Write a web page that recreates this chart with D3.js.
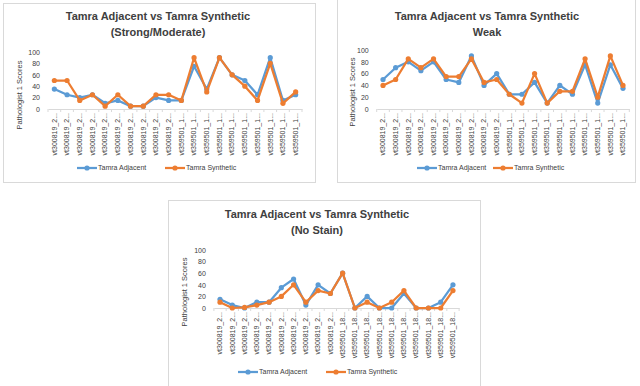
<!DOCTYPE html>
<html>
<head>
<meta charset="utf-8">
<script src="https://cdnjs.cloudflare.com/ajax/libs/d3/7.8.5/d3.min.js"></script>
<style>
  body { margin: 0; background: #fff; }
  svg { display: block; font-family: "Liberation Sans", Arial, sans-serif; }
  .title { font-size: 11px; font-weight: bold; fill: #404040; }
  .tick text { font-size: 7px; fill: #404040; }
  .ylab { font-size: 7.5px; fill: #404040; }
  .leg { font-size: 7px; fill: #404040; }
</style>
</head>
<body>
<div id="chart-area"></div>
<script>
// categories
var catsA = ["vt300819_2...", "vt300819_2...", "vt300819_2...", "vt300819_2...", "vt300819_2...",
             "vt300819_2...", "vt300819_2...", "vt300819_2...", "vt300819_2...", "vt300819_2...",
             "vt359501_1...", "vt359501_1...", "vt359501_1...", "vt359501_1...", "vt359501_1...",
             "vt359501_1...", "vt359501_1...", "vt359501_1...", "vt359501_1...", "vt359501_1..."];
var catsC = ["vt300819_2...", "vt300819_2...", "vt300819_2...", "vt300819_2...", "vt300819_2...",
             "vt300819_2...", "vt300819_2...", "vt300819_2...", "vt300819_2...", "vt300819_2...",
             "vt359501_18...", "vt359501_18...", "vt359501_18...", "vt359501_18...", "vt359501_18...",
             "vt359501_18...", "vt359501_18...", "vt359501_18...", "vt359501_18...", "vt359501_18..."];

// Strong/Moderate
var strongAdj = [35, 25, 20, 25, 10, 15, 5, 5, 20, 15, 15, 75, 35, 90, 60, 50, 25, 90, 15, 25];
var strongSyn = [50, 50, 15, 25, 5, 25, 5, 5, 25, 25, 15, 90, 30, 90, 60, 40, 15, 80, 10, 30];
// Weak
var weakAdj = [50, 70, 80, 65, 80, 50, 45, 90, 40, 60, 25, 25, 45, 10, 40, 25, 75, 10, 75, 35];
var weakSyn = [40, 50, 85, 70, 85, 55, 55, 85, 45, 50, 25, 10, 60, 10, 30, 30, 85, 20, 90, 40];
// No stain
var noneAdj = [15, 5, 0, 10, 10, 35, 50, 5, 40, 25, 60, 0, 20, 0, 0, 25, 0, 0, 10, 40];
var noneSyn = [10, 0, 1, 5, 10, 20, 40, 10, 30, 25, 60, 0, 10, 0, 10, 30, 0, 0, 0, 30];

var yTicks = [0, 20, 40, 60, 80, 100];
var seriesNames = ["Tamra Adjacent", "Tamra Synthetic"];
var colors = ["#5b9bd5", "#ed7d31"];

var svg = d3.select("#chart-area").append("svg")
    .attr("width", 640)
    .attr("height", 386);

function drawChart(c) {
  var g = svg.append("g");

  // frame
  g.append("rect")
      .attr("x", c.box[0] + 0.5).attr("y", c.box[1] + 0.5)
      .attr("width", c.box[2]).attr("height", c.box[3])
      .attr("fill", "#fff").attr("stroke", "#d9d9d9");

  // title
  c.title.forEach(function(t, i) {
    g.append("text").attr("class", "title")
        .attr("x", c.titleX).attr("y", c.titleY + i * 16)
        .attr("text-anchor", "middle")
        .text(t);
  });

  var x = d3.scaleBand().domain(d3.range(c.cats.length)).range(c.xr);
  var y = d3.scaleLinear().domain([0, 100]).range(c.yr);
  var cx = function(i) { return x(i) + x.bandwidth() / 2; };

  // y axis (labels only)
  var yAxis = g.append("g")
      .attr("transform", "translate(" + c.xr[0] + ",0)")
      .call(d3.axisLeft(y).tickValues(yTicks).tickSize(0).tickPadding(8));
  yAxis.select(".domain").remove();

  // x axis
  var xAxis = g.append("g")
      .attr("transform", "translate(0," + c.yr[0] + ")")
      .call(d3.axisBottom(x).tickSize(0).tickFormat(function(i) { return c.cats[i]; }));
  xAxis.select(".domain").attr("stroke", "#d9d9d9");
  xAxis.selectAll(".tick text")
      .attr("transform", "rotate(-90)")
      .attr("x", -4).attr("y", 0).attr("dy", "0.32em")
      .style("text-anchor", "end");
  // tick marks between categories
  g.selectAll(".xt").data(d3.range(c.cats.length + 1)).enter().append("line")
      .attr("x1", function(i) { return c.xr[0] + i * x.bandwidth(); })
      .attr("x2", function(i) { return c.xr[0] + i * x.bandwidth(); })
      .attr("y1", c.yr[0]).attr("y2", c.yr[0] + 3)
      .attr("stroke", "#d9d9d9");

  // y label
  g.append("text").attr("class", "ylab")
      .attr("transform", "translate(" + c.ylabX + "," + c.ylabY + ") rotate(-90)")
      .attr("text-anchor", "middle")
      .text("Pathologist 1 Scores");

  var line = d3.line()
      .x(function(d, i) { return cx(i); })
      .y(function(d) { return y(d); });

  c.series.forEach(function(s, k) {
    g.append("path")
        .attr("d", line(s))
        .attr("fill", "none")
        .attr("stroke", colors[k])
        .attr("stroke-width", 2.25)
        .attr("stroke-linejoin", "round");
    g.selectAll(".pt" + k).data(s).enter().append("circle")
        .attr("cx", function(d, i) { return cx(i); })
        .attr("cy", function(d) { return y(d); })
        .attr("r", 2.6)
        .attr("fill", colors[k]);
  });

  // legend
  seriesNames.forEach(function(n, k) {
    var lx = c.legX[k];
    g.append("line")
        .attr("x1", lx).attr("x2", lx + 20)
        .attr("y1", c.legY).attr("y2", c.legY)
        .attr("stroke", colors[k]).attr("stroke-width", 2.25);
    g.append("circle").attr("cx", lx + 10).attr("cy", c.legY).attr("r", 2.6).attr("fill", colors[k]);
    g.append("text").attr("class", "leg")
        .attr("x", lx + 21).attr("y", c.legY).attr("dy", "0.35em")
        .text(n);
  });
}

drawChart({
  box: [3, 3, 312, 179],
  title: ["Tamra Adjacent vs Tamra Synthetic", "(Strong/Moderate)"],
  titleX: 158, titleY: 20,
  cats: catsA, series: [strongAdj, strongSyn],
  xr: [48, 302], yr: [109, 52],
  ylabX: 22, ylabY: 95,
  legX: [77, 165], legY: 168
});

drawChart({
  box: [337, -1, 298, 183],
  title: ["Tamra Adjacent vs Tamra Synthetic", "Weak"],
  titleX: 487, titleY: 20,
  cats: catsA, series: [weakAdj, weakSyn],
  xr: [376.7, 629.3], yr: [109, 50],
  ylabX: 355, ylabY: 92,
  legX: [417, 493], legY: 168
});

drawChart({
  box: [168, 200, 312, 186],
  title: ["Tamra Adjacent vs Tamra Synthetic", "(No Stain)"],
  titleX: 317, titleY: 218,
  cats: catsC, series: [noneAdj, noneSyn],
  xr: [213.9, 459.1], yr: [308, 250],
  ylabX: 187, ylabY: 292,
  legX: [238, 326], legY: 372
});
</script>
</body>
</html>
